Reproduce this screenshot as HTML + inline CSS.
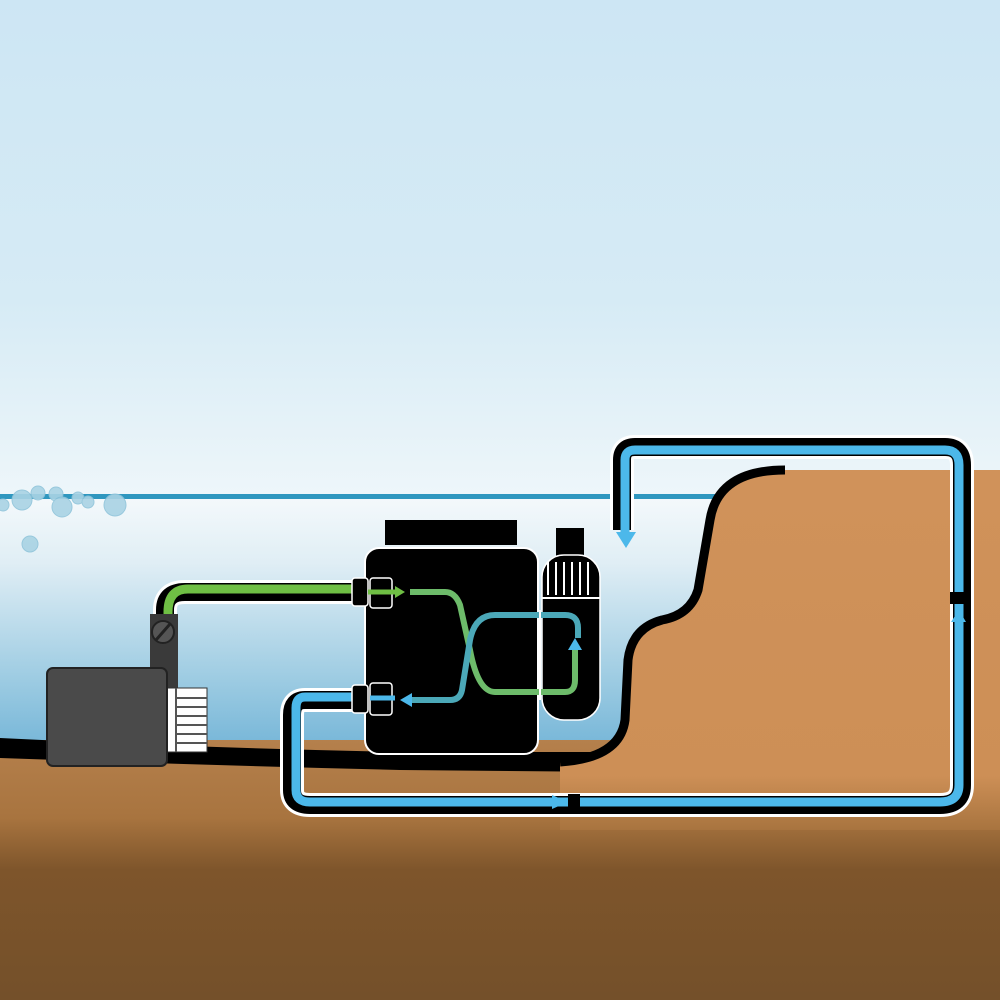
<!DOCTYPE html><html><head><style>body{margin:0}svg{display:block}</style></head><body>
<svg width="1000" height="1000" viewBox="0 0 1000 1000" xmlns="http://www.w3.org/2000/svg">
<defs>
<linearGradient id="sky" x1="0" y1="0" x2="0" y2="1"><stop offset="0" stop-color="#cde6f4"/><stop offset="0.6" stop-color="#d6ebf5"/><stop offset="1" stop-color="#eef6fa"/></linearGradient>
<linearGradient id="water" x1="0" y1="0" x2="0" y2="1"><stop offset="0" stop-color="#f4f9fb"/><stop offset="0.25" stop-color="#e0eef5"/><stop offset="0.7" stop-color="#9ccbe2"/><stop offset="1" stop-color="#6fb2d6"/></linearGradient>
<linearGradient id="ground" x1="0" y1="0" x2="0" y2="1"><stop offset="0" stop-color="#b5804c"/><stop offset="0.3" stop-color="#a8743f"/><stop offset="0.5" stop-color="#7e552b"/><stop offset="1" stop-color="#74502a"/></linearGradient>
<linearGradient id="bank" x1="0" y1="0" x2="0" y2="1"><stop offset="0" stop-color="#d0925a"/><stop offset="0.85" stop-color="#cd8f56"/><stop offset="1" stop-color="#a8743f"/></linearGradient>
</defs>
<rect width="1000" height="500" fill="url(#sky)"/>
<rect y="497" width="1000" height="263" fill="url(#water)"/>
<rect y="494" width="1000" height="5" fill="#2f97bf"/>
<rect y="740" width="1000" height="260" fill="url(#ground)"/>
<path d="M0 738 Q200 748 400 752 L620 752 L620 772 L400 770 Q200 765 0 758 Z" fill="#000"/>
<path d="M785 470 L1000 470 L1000 830 L560 830 L560 762 Q620 758 625 720 L628 660 Q632 628 662 620 Q690 615 698 590 L710 520 Q718 470 785 470 Z" fill="url(#bank)"/>
<path d="M785 470 Q718 470 710 520 L698 590 Q690 615 662 620 Q632 628 628 660 L625 720 Q620 758 560 762" fill="none" stroke="#000" stroke-width="9"/>
<g fill="#a9d3e4" stroke="#8fc4da" stroke-width="1" opacity="0.9">
<circle cx="22" cy="500" r="10"/><circle cx="38" cy="493" r="7"/><circle cx="56" cy="494" r="7"/><circle cx="62" cy="507" r="10"/><circle cx="78" cy="498" r="6"/><circle cx="88" cy="502" r="6"/><circle cx="115" cy="505" r="11"/><circle cx="30" cy="544" r="8"/><circle cx="3" cy="505" r="6"/></g>
<path d="M365 700 L305 700 Q292 700 292 715 L292 790 Q292 805 310 805 L940 805 Q962 805 962 785 L962 465 Q962 447 945 447 L635 447 Q622 447 622 460 L622 530" fill="none" stroke="#fff" stroke-width="24"/>
<path d="M365 700 L305 700 Q292 700 292 715 L292 790 Q292 805 310 805 L940 805 Q962 805 962 785 L962 465 Q962 447 945 447 L635 447 Q622 447 622 460 L622 530" fill="none" stroke="#000" stroke-width="18"/>
<path d="M365 697 L305 697 Q296 697 296 708 L296 790 Q296 802 310 802 L940 802 Q959 802 959 785 L959 465 Q959 450 945 450 L635 450 Q625 450 625 460 L625 535" fill="none" stroke="#4cb8ea" stroke-width="9"/>
<polygon points="616,532 636,532 626,548" fill="#4cb8ea"/>
<polygon points="552,795 568,802 552,809" fill="#4cb8ea"/>
<rect x="568" y="794" width="12" height="14" fill="#000"/>
<polygon points="951,622 966,622 959,610" fill="#4cb8ea"/>
<rect x="950" y="592" width="16" height="12" fill="#000"/>
<path d="M165 620 L165 610 Q165 592 185 592 L365 592" fill="none" stroke="#fff" stroke-width="24"/>
<path d="M165 620 L165 610 Q165 592 185 592 L365 592" fill="none" stroke="#000" stroke-width="18"/>
<path d="M168 620 L168 612 Q168 589 188 589 L365 589" fill="none" stroke="#6fbf44" stroke-width="9"/>
<rect x="150" y="614" width="28" height="80" fill="#3a3a3a"/>
<circle cx="163" cy="632" r="11" fill="#555" stroke="#222" stroke-width="2"/><line x1="156" y1="640" x2="170" y2="624" stroke="#222" stroke-width="3"/>
<rect x="165" y="688" width="42" height="64" fill="#fff" stroke="#333"/>
<g stroke="#555" stroke-width="2"><line x1="176" y1="698" x2="207" y2="698"/><line x1="176" y1="707" x2="207" y2="707"/><line x1="176" y1="716" x2="207" y2="716"/><line x1="176" y1="725" x2="207" y2="725"/><line x1="176" y1="734" x2="207" y2="734"/><line x1="176" y1="743" x2="207" y2="743"/><line x1="176" y1="688" x2="176" y2="752"/></g>
<rect x="47" y="668" width="120" height="98" rx="6" fill="#4a4a4a" stroke="#222" stroke-width="2"/>
<rect x="385" y="520" width="132" height="25" fill="#000"/>
<rect x="365" y="548" width="173" height="206" rx="14" fill="#000" stroke="#fff" stroke-width="2"/>
<rect x="556" y="528" width="28" height="30" fill="#000"/>
<rect x="542" y="555" width="58" height="165" rx="22" fill="#000" stroke="#fff" stroke-width="1.5"/>
<g stroke="#fff" stroke-width="2"><line x1="548" y1="562" x2="548" y2="595"/><line x1="556" y1="562" x2="556" y2="595"/><line x1="564" y1="562" x2="564" y2="595"/><line x1="572" y1="562" x2="572" y2="595"/><line x1="580" y1="562" x2="580" y2="595"/><line x1="588" y1="562" x2="588" y2="595"/></g>
<line x1="542" y1="598" x2="600" y2="598" stroke="#fff" stroke-width="2"/>
<g fill="#000" stroke="#fff" stroke-width="1.5"><rect x="352" y="578" width="16" height="28" rx="3"/><rect x="370" y="578" width="22" height="30" rx="3"/><rect x="352" y="685" width="16" height="28" rx="3"/><rect x="370" y="683" width="22" height="32" rx="3"/></g>
<line x1="368" y1="592" x2="395" y2="592" stroke="#6fbf44" stroke-width="5"/><polygon points="395,586 405,592 395,598" fill="#6fbf44"/>
<line x1="370" y1="698" x2="395" y2="698" stroke="#4cb8ea" stroke-width="5"/>
<path d="M410 592 L445 592 Q455 592 460 605 L470 650 Q478 692 495 692 L565 692 Q575 692 575 680 L575 650" fill="none" stroke="#6dbb6a" stroke-width="6"/>
<path d="M410 700 L450 700 Q460 700 462 690 L470 640 Q475 615 495 615 L565 615 Q578 615 578 628 L578 638" fill="none" stroke="#4ba8b8" stroke-width="6"/>
<polygon points="568,650 582,650 575,638" fill="#4cb8ea"/>
<polygon points="412,693 400,700 412,707" fill="#4cb8ea"/>
<line x1="540" y1="610" x2="540" y2="700" stroke="#fff" stroke-width="2"/>
</svg>
</body></html>
